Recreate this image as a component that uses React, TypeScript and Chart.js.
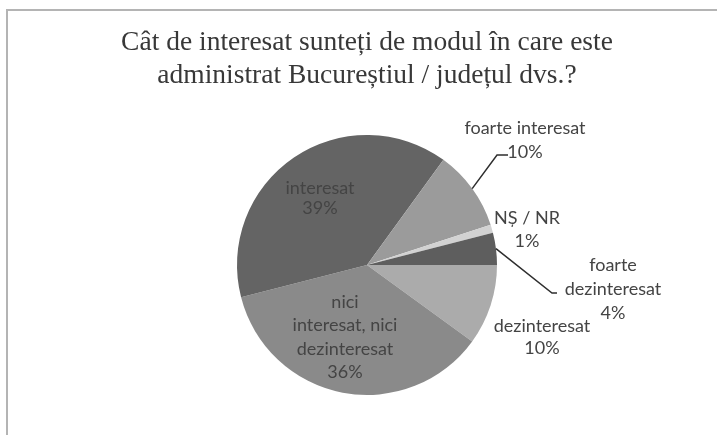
import React, { useEffect, useRef } from "react";
import { Chart, registerables } from "chart.js";

Chart.register(...registerables);

const titleLines = [
  "Cât de interesat sunteți de modul în care este",
  "administrat Bucureștiul / județul dvs.?",
];
const categories = [
  "dezinteresat",
  "nici interesat, nici dezinteresat",
  "interesat",
  "foarte interesat",
  "NȘ / NR",
  "foarte dezinteresat",
];
const values = [10, 36, 39, 10, 1, 4];
const labelNames = [
  ["dezinteresat"],
  ["nici", "interesat, nici", "dezinteresat"],
  ["interesat"],
  ["foarte interesat"],
  ["NȘ / NR"],
  ["foarte", "dezinteresat"],
];
const sliceColors = ["#ababab", "#8a8a8a", "#646464", "#9b9b9b", "#d2d2d2", "#5e5e5e"];

// label placement relative to pie centre (px at radius 130)
const placements: { dx: number; dy: number; lh: number; leader?: number[] }[] = [
  { dx: 175, dy: 72, lh: 22 },
  { dx: -22, dy: 72, lh: 23.5 },
  { dx: -47, dy: -67, lh: 20 },
  { dx: 158, dy: -125, lh: 24, leader: [130, -110, 141] },
  { dx: 160, dy: -35, lh: 23 },
  { dx: 246, dy: 24, lh: 24, leader: [185, 28, 190] },
];

const labelPlugin = {
  id: "sliceLabels",
  afterDatasetsDraw(chart: any) {
    const ctx = chart.ctx as CanvasRenderingContext2D;
    const meta = chart.getDatasetMeta(0);
    meta.data.forEach((arc: any, i: number) => {
      const { x, y, outerRadius, startAngle, endAngle } = arc.getProps(
        ["x", "y", "outerRadius", "startAngle", "endAngle"],
        true
      );
      const mid = (startAngle + endAngle) / 2;
      const s = outerRadius / 130;
      const p = placements[i];
      const cx = x + p.dx * s;
      const cy = y + p.dy * s;
      const lines = [...labelNames[i], values[i] + "%"];
      ctx.save();
      ctx.font = "18px Lato, 'Open Sans', sans-serif";
      ctx.fillStyle = "#444444";
      ctx.textAlign = "center";
      ctx.textBaseline = "middle";
      const y0 = cy - ((lines.length - 1) * p.lh) / 2;
      lines.forEach((t, k) => ctx.fillText(t, cx, y0 + k * p.lh));
      if (p.leader) {
        const ex = x + Math.cos(mid) * outerRadius;
        const ey = y + Math.sin(mid) * outerRadius;
        ctx.strokeStyle = "#2e2e2e";
        ctx.lineWidth = 1.5;
        ctx.beginPath();
        ctx.moveTo(ex, ey);
        ctx.lineTo(x + p.leader[0] * s, y + p.leader[1] * s);
        ctx.lineTo(x + p.leader[2] * s, y + p.leader[1] * s);
        ctx.stroke();
      }
      ctx.restore();
    });
  },
};

export default function App() {
  const ref = useRef<HTMLCanvasElement>(null);
  useEffect(() => {
    if (!ref.current) return;
    const chart = new Chart(ref.current, {
      type: "pie",
      data: {
        labels: categories,
        datasets: [
          {
            data: values,
            backgroundColor: sliceColors,
            borderWidth: 0,
          },
        ],
      },
      options: {
        animation: false,
        responsive: false,
        devicePixelRatio: 1,
        rotation: 90,
        layout: { padding: { left: 117, right: 100, top: 0, bottom: 40 } },
        plugins: {
          legend: { display: false },
          tooltip: { enabled: false },
          title: {
            display: true,
            text: titleLines,
            color: "#383838",
            font: {
              family: "'Liberation Serif', 'Times New Roman', serif",
              size: 27.5,
              weight: "normal",
              lineHeight: 33 / 27.5,
            },
            padding: { top: 26, bottom: 43 },
          },
        },
      },
      plugins: [labelPlugin],
    });
    return () => chart.destroy();
  }, []);

  return (
    <div
      style={{
        position: "fixed",
        left: 0,
        top: 0,
        width: 717,
        height: 435,
        background: "#ffffff",
        overflow: "hidden",
      }}
    >
      <div
        style={{
          position: "absolute",
          left: 6,
          top: 9,
          right: 0,
          bottom: 0,
          borderTop: "2px solid #b4b4b4",
          borderLeft: "2px solid #b4b4b4",
        }}
      />
      <canvas
        ref={ref}
        width={717}
        height={435}
        style={{ position: "absolute", left: 0, top: 0, width: 717, height: 435 }}
      />
    </div>
  );
}
